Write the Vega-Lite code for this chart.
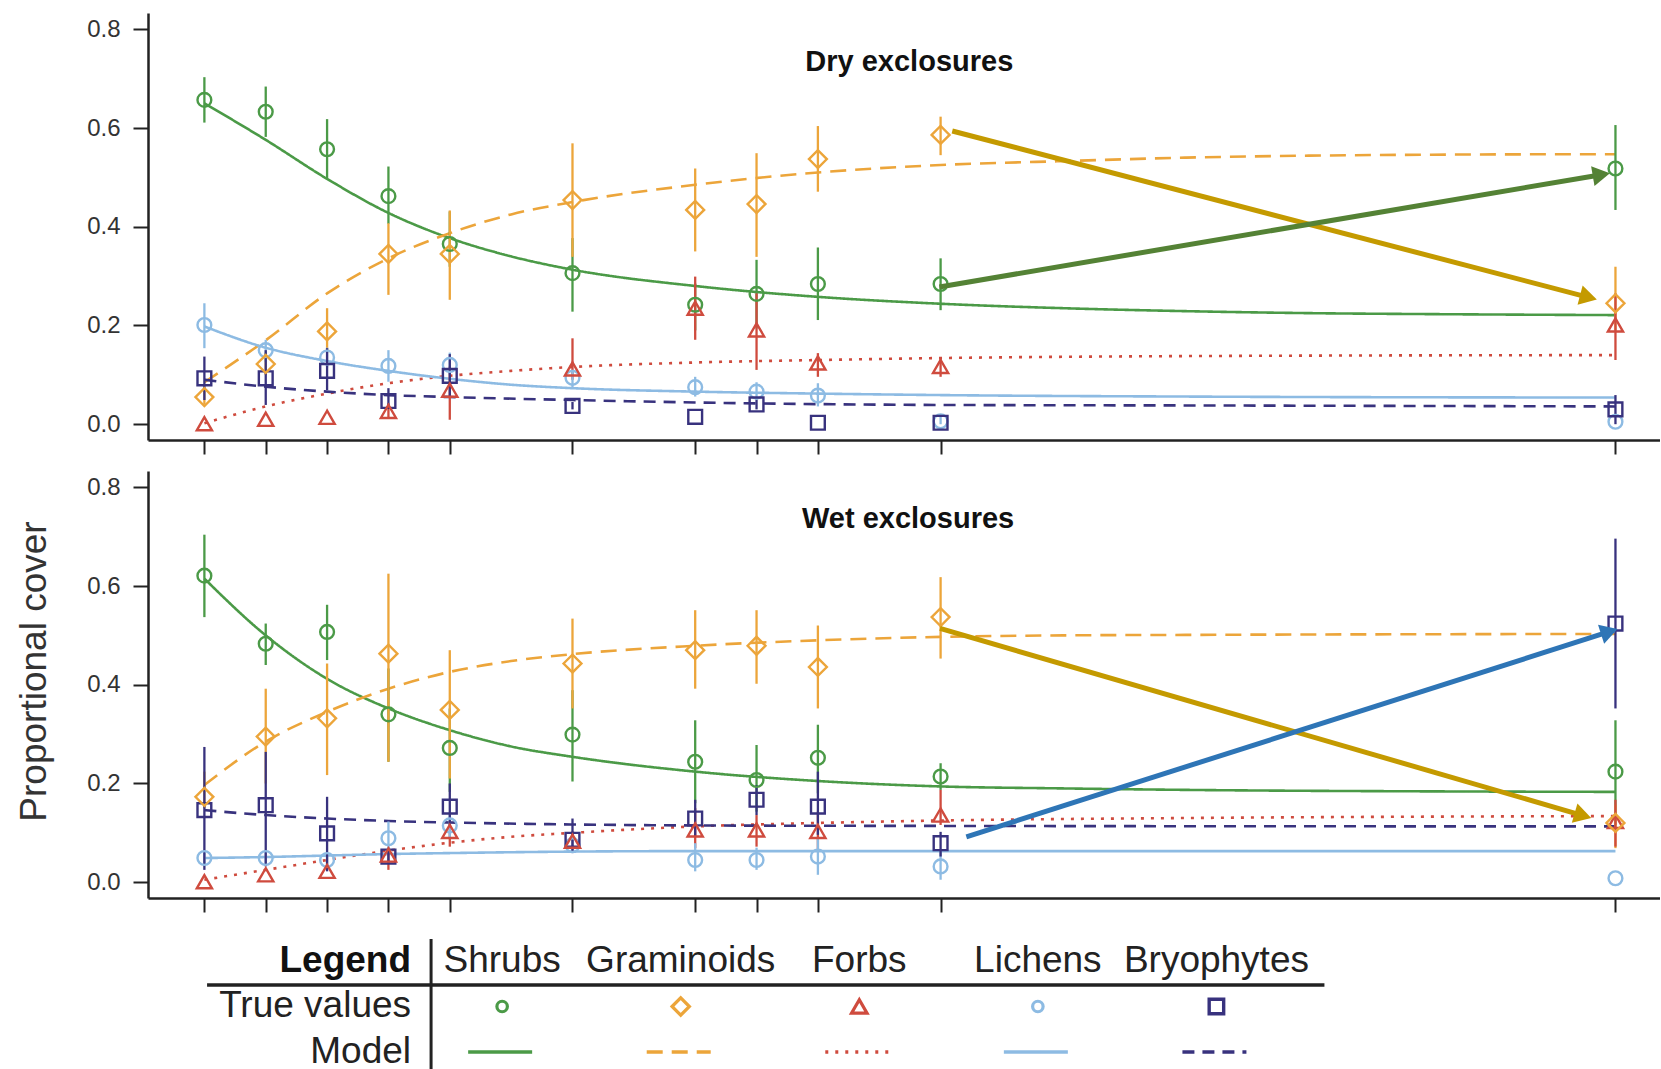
{
  "$schema": "https://vega.github.io/schema/vega-lite/v6.json",
  "background": "white",
  "padding": {"left": 15, "top": 13, "right": 0, "bottom": 0},
  "spacing": 16,
  "config": {
    "view": {"stroke": null},
    "font": "Liberation Sans",
    "axis": {"domainColor": "#222", "domainWidth": 2.5, "tickColor": "#222", "tickWidth": 2, "grid": false, "labelFont": "Liberation Sans", "labelColor": "#333", "labelFontSize": 24},
    "axisX": {"tickSize": 14, "labels": false},
    "axisY": {"tickSize": 15, "labelPadding": 13}
  },
  "datasets": {
    "obs": [
      {"panel":"Dry","group":"Shrubs","year":0,"value":0.657,"lo":0.611,"hi":0.703},
      {"panel":"Dry","group":"Shrubs","year":1,"value":0.633,"lo":0.582,"hi":0.684},
      {"panel":"Dry","group":"Shrubs","year":2,"value":0.557,"lo":0.498,"hi":0.618},
      {"panel":"Dry","group":"Shrubs","year":3,"value":0.462,"lo":0.406,"hi":0.522},
      {"panel":"Dry","group":"Shrubs","year":4,"value":0.365,"lo":0.319,"hi":0.431},
      {"panel":"Dry","group":"Shrubs","year":6,"value":0.306,"lo":0.228,"hi":0.377},
      {"panel":"Dry","group":"Shrubs","year":8,"value":0.242,"lo":0.19,"hi":0.285},
      {"panel":"Dry","group":"Shrubs","year":9,"value":0.264,"lo":0.194,"hi":0.333},
      {"panel":"Dry","group":"Shrubs","year":10,"value":0.284,"lo":0.211,"hi":0.358},
      {"panel":"Dry","group":"Shrubs","year":12,"value":0.284,"lo":0.231,"hi":0.336},
      {"panel":"Dry","group":"Shrubs","year":23,"value":0.518,"lo":0.434,"hi":0.606},
      {"panel":"Dry","group":"Graminoids","year":0,"value":0.055,"lo":0.04,"hi":0.07},
      {"panel":"Dry","group":"Graminoids","year":1,"value":0.122,"lo":0.10,"hi":0.145},
      {"panel":"Dry","group":"Graminoids","year":2,"value":0.188,"lo":0.144,"hi":0.235},
      {"panel":"Dry","group":"Graminoids","year":3,"value":0.345,"lo":0.262,"hi":0.407},
      {"panel":"Dry","group":"Graminoids","year":4,"value":0.345,"lo":0.252,"hi":0.433},
      {"panel":"Dry","group":"Graminoids","year":6,"value":0.454,"lo":0.339,"hi":0.569},
      {"panel":"Dry","group":"Graminoids","year":8,"value":0.434,"lo":0.35,"hi":0.518},
      {"panel":"Dry","group":"Graminoids","year":9,"value":0.446,"lo":0.339,"hi":0.549},
      {"panel":"Dry","group":"Graminoids","year":10,"value":0.537,"lo":0.471,"hi":0.604},
      {"panel":"Dry","group":"Graminoids","year":12,"value":0.586,"lo":0.545,"hi":0.623},
      {"panel":"Dry","group":"Graminoids","year":23,"value":0.245,"lo":0.19,"hi":0.319},
      {"panel":"Dry","group":"Forbs","year":0,"value":0.001,"lo":0.001,"hi":0.001},
      {"panel":"Dry","group":"Forbs","year":1,"value":0.01,"lo":0.01,"hi":0.01},
      {"panel":"Dry","group":"Forbs","year":2,"value":0.014,"lo":0.014,"hi":0.014},
      {"panel":"Dry","group":"Forbs","year":3,"value":0.026,"lo":0.012,"hi":0.042},
      {"panel":"Dry","group":"Forbs","year":4,"value":0.069,"lo":0.009,"hi":0.117},
      {"panel":"Dry","group":"Forbs","year":6,"value":0.112,"lo":0.09,"hi":0.174},
      {"panel":"Dry","group":"Forbs","year":8,"value":0.235,"lo":0.171,"hi":0.299},
      {"panel":"Dry","group":"Forbs","year":9,"value":0.191,"lo":0.11,"hi":0.265},
      {"panel":"Dry","group":"Forbs","year":10,"value":0.124,"lo":0.096,"hi":0.144},
      {"panel":"Dry","group":"Forbs","year":12,"value":0.117,"lo":0.096,"hi":0.134},
      {"panel":"Dry","group":"Forbs","year":23,"value":0.201,"lo":0.13,"hi":0.265},
      {"panel":"Dry","group":"Lichens","year":0,"value":0.201,"lo":0.154,"hi":0.245},
      {"panel":"Dry","group":"Lichens","year":1,"value":0.15,"lo":0.126,"hi":0.171},
      {"panel":"Dry","group":"Lichens","year":2,"value":0.135,"lo":0.115,"hi":0.155},
      {"panel":"Dry","group":"Lichens","year":3,"value":0.118,"lo":0.086,"hi":0.15},
      {"panel":"Dry","group":"Lichens","year":4,"value":0.12,"lo":0.1,"hi":0.145},
      {"panel":"Dry","group":"Lichens","year":6,"value":0.094,"lo":0.075,"hi":0.11},
      {"panel":"Dry","group":"Lichens","year":8,"value":0.075,"lo":0.056,"hi":0.096},
      {"panel":"Dry","group":"Lichens","year":9,"value":0.066,"lo":0.05,"hi":0.085},
      {"panel":"Dry","group":"Lichens","year":10,"value":0.058,"lo":0.036,"hi":0.083},
      {"panel":"Dry","group":"Lichens","year":12,"value":0.006,"lo":0.0,"hi":0.015},
      {"panel":"Dry","group":"Lichens","year":23,"value":0.005,"lo":0.005,"hi":0.005},
      {"panel":"Dry","group":"Bryophytes","year":0,"value":0.093,"lo":0.049,"hi":0.137},
      {"panel":"Dry","group":"Bryophytes","year":1,"value":0.093,"lo":0.039,"hi":0.15},
      {"panel":"Dry","group":"Bryophytes","year":2,"value":0.108,"lo":0.069,"hi":0.154},
      {"panel":"Dry","group":"Bryophytes","year":3,"value":0.047,"lo":0.032,"hi":0.073},
      {"panel":"Dry","group":"Bryophytes","year":4,"value":0.098,"lo":0.056,"hi":0.142},
      {"panel":"Dry","group":"Bryophytes","year":6,"value":0.037,"lo":0.03,"hi":0.045},
      {"panel":"Dry","group":"Bryophytes","year":8,"value":0.015,"lo":0.015,"hi":0.015},
      {"panel":"Dry","group":"Bryophytes","year":9,"value":0.04,"lo":0.03,"hi":0.05},
      {"panel":"Dry","group":"Bryophytes","year":10,"value":0.003,"lo":0.003,"hi":0.003},
      {"panel":"Dry","group":"Bryophytes","year":12,"value":0.003,"lo":0.003,"hi":0.003},
      {"panel":"Dry","group":"Bryophytes","year":23,"value":0.03,"lo":0.0,"hi":0.059},
      {"panel":"Wet","group":"Shrubs","year":0,"value":0.621,"lo":0.537,"hi":0.704},
      {"panel":"Wet","group":"Shrubs","year":1,"value":0.483,"lo":0.44,"hi":0.524},
      {"panel":"Wet","group":"Shrubs","year":2,"value":0.507,"lo":0.45,"hi":0.562},
      {"panel":"Wet","group":"Shrubs","year":3,"value":0.34,"lo":0.244,"hi":0.433},
      {"panel":"Wet","group":"Shrubs","year":4,"value":0.272,"lo":0.183,"hi":0.352},
      {"panel":"Wet","group":"Shrubs","year":6,"value":0.299,"lo":0.204,"hi":0.389},
      {"panel":"Wet","group":"Shrubs","year":8,"value":0.244,"lo":0.16,"hi":0.328},
      {"panel":"Wet","group":"Shrubs","year":9,"value":0.207,"lo":0.143,"hi":0.278},
      {"panel":"Wet","group":"Shrubs","year":10,"value":0.252,"lo":0.18,"hi":0.319},
      {"panel":"Wet","group":"Shrubs","year":12,"value":0.214,"lo":0.187,"hi":0.241},
      {"panel":"Wet","group":"Shrubs","year":23,"value":0.224,"lo":0.116,"hi":0.328},
      {"panel":"Wet","group":"Graminoids","year":0,"value":0.173,"lo":0.15,"hi":0.224},
      {"panel":"Wet","group":"Graminoids","year":1,"value":0.295,"lo":0.2,"hi":0.392},
      {"panel":"Wet","group":"Graminoids","year":2,"value":0.332,"lo":0.217,"hi":0.443},
      {"panel":"Wet","group":"Graminoids","year":3,"value":0.463,"lo":0.244,"hi":0.625},
      {"panel":"Wet","group":"Graminoids","year":4,"value":0.349,"lo":0.21,"hi":0.47},
      {"panel":"Wet","group":"Graminoids","year":6,"value":0.443,"lo":0.352,"hi":0.534},
      {"panel":"Wet","group":"Graminoids","year":8,"value":0.47,"lo":0.392,"hi":0.551},
      {"panel":"Wet","group":"Graminoids","year":9,"value":0.479,"lo":0.402,"hi":0.551},
      {"panel":"Wet","group":"Graminoids","year":10,"value":0.436,"lo":0.352,"hi":0.52},
      {"panel":"Wet","group":"Graminoids","year":12,"value":0.537,"lo":0.453,"hi":0.618},
      {"panel":"Wet","group":"Graminoids","year":23,"value":0.12,"lo":0.069,"hi":0.157},
      {"panel":"Wet","group":"Forbs","year":0,"value":0.001,"lo":0.001,"hi":0.001},
      {"panel":"Wet","group":"Forbs","year":1,"value":0.015,"lo":0.015,"hi":0.015},
      {"panel":"Wet","group":"Forbs","year":2,"value":0.022,"lo":0.022,"hi":0.022},
      {"panel":"Wet","group":"Forbs","year":3,"value":0.055,"lo":0.025,"hi":0.072},
      {"panel":"Wet","group":"Forbs","year":4,"value":0.103,"lo":0.072,"hi":0.123},
      {"panel":"Wet","group":"Forbs","year":6,"value":0.083,"lo":0.065,"hi":0.1},
      {"panel":"Wet","group":"Forbs","year":8,"value":0.106,"lo":0.069,"hi":0.15},
      {"panel":"Wet","group":"Forbs","year":9,"value":0.106,"lo":0.072,"hi":0.136},
      {"panel":"Wet","group":"Forbs","year":10,"value":0.103,"lo":0.066,"hi":0.143},
      {"panel":"Wet","group":"Forbs","year":12,"value":0.136,"lo":0.116,"hi":0.187},
      {"panel":"Wet","group":"Forbs","year":23,"value":0.123,"lo":0.072,"hi":0.167},
      {"panel":"Wet","group":"Lichens","year":0,"value":0.049,"lo":0.035,"hi":0.06},
      {"panel":"Wet","group":"Lichens","year":1,"value":0.049,"lo":0.035,"hi":0.065},
      {"panel":"Wet","group":"Lichens","year":2,"value":0.045,"lo":0.03,"hi":0.06},
      {"panel":"Wet","group":"Lichens","year":3,"value":0.089,"lo":0.062,"hi":0.123},
      {"panel":"Wet","group":"Lichens","year":4,"value":0.115,"lo":0.09,"hi":0.14},
      {"panel":"Wet","group":"Lichens","year":6,"value":0.075,"lo":0.06,"hi":0.09},
      {"panel":"Wet","group":"Lichens","year":8,"value":0.045,"lo":0.022,"hi":0.079},
      {"panel":"Wet","group":"Lichens","year":9,"value":0.045,"lo":0.025,"hi":0.07},
      {"panel":"Wet","group":"Lichens","year":10,"value":0.052,"lo":0.015,"hi":0.089},
      {"panel":"Wet","group":"Lichens","year":12,"value":0.032,"lo":0.005,"hi":0.062},
      {"panel":"Wet","group":"Lichens","year":23,"value":0.008,"lo":0.008,"hi":0.008},
      {"panel":"Wet","group":"Bryophytes","year":0,"value":0.146,"lo":0.025,"hi":0.274},
      {"panel":"Wet","group":"Bryophytes","year":1,"value":0.156,"lo":0.032,"hi":0.264},
      {"panel":"Wet","group":"Bryophytes","year":2,"value":0.099,"lo":0.022,"hi":0.173},
      {"panel":"Wet","group":"Bryophytes","year":3,"value":0.052,"lo":0.04,"hi":0.065},
      {"panel":"Wet","group":"Bryophytes","year":4,"value":0.153,"lo":0.116,"hi":0.2},
      {"panel":"Wet","group":"Bryophytes","year":6,"value":0.086,"lo":0.059,"hi":0.129},
      {"panel":"Wet","group":"Bryophytes","year":8,"value":0.129,"lo":0.092,"hi":0.167},
      {"panel":"Wet","group":"Bryophytes","year":9,"value":0.167,"lo":0.136,"hi":0.197},
      {"panel":"Wet","group":"Bryophytes","year":10,"value":0.153,"lo":0.096,"hi":0.224},
      {"panel":"Wet","group":"Bryophytes","year":12,"value":0.079,"lo":0.052,"hi":0.102},
      {"panel":"Wet","group":"Bryophytes","year":23,"value":0.524,"lo":0.352,"hi":0.696}
    ],
    "model": [
      {"panel":"Dry","group":"Shrubs","year":0,"value":0.65},
      {"panel":"Dry","group":"Shrubs","year":1,"value":0.576},
      {"panel":"Dry","group":"Shrubs","year":2,"value":0.497},
      {"panel":"Dry","group":"Shrubs","year":3,"value":0.428},
      {"panel":"Dry","group":"Shrubs","year":4,"value":0.377},
      {"panel":"Dry","group":"Shrubs","year":5,"value":0.34},
      {"panel":"Dry","group":"Shrubs","year":6,"value":0.313},
      {"panel":"Dry","group":"Shrubs","year":8,"value":0.28},
      {"panel":"Dry","group":"Shrubs","year":10,"value":0.258},
      {"panel":"Dry","group":"Shrubs","year":12,"value":0.244},
      {"panel":"Dry","group":"Shrubs","year":14,"value":0.235},
      {"panel":"Dry","group":"Shrubs","year":16,"value":0.229},
      {"panel":"Dry","group":"Shrubs","year":18,"value":0.225},
      {"panel":"Dry","group":"Shrubs","year":20,"value":0.223},
      {"panel":"Dry","group":"Shrubs","year":23,"value":0.221},
      {"panel":"Dry","group":"Graminoids","year":0,"value":0.085},
      {"panel":"Dry","group":"Graminoids","year":1,"value":0.17},
      {"panel":"Dry","group":"Graminoids","year":2,"value":0.265},
      {"panel":"Dry","group":"Graminoids","year":3,"value":0.336},
      {"panel":"Dry","group":"Graminoids","year":4,"value":0.387},
      {"panel":"Dry","group":"Graminoids","year":5,"value":0.425},
      {"panel":"Dry","group":"Graminoids","year":6,"value":0.45},
      {"panel":"Dry","group":"Graminoids","year":8,"value":0.485},
      {"panel":"Dry","group":"Graminoids","year":10,"value":0.51},
      {"panel":"Dry","group":"Graminoids","year":12,"value":0.525},
      {"panel":"Dry","group":"Graminoids","year":14,"value":0.533},
      {"panel":"Dry","group":"Graminoids","year":16,"value":0.54},
      {"panel":"Dry","group":"Graminoids","year":18,"value":0.544},
      {"panel":"Dry","group":"Graminoids","year":20,"value":0.546},
      {"panel":"Dry","group":"Graminoids","year":23,"value":0.547},
      {"panel":"Dry","group":"Forbs","year":0,"value":0.002},
      {"panel":"Dry","group":"Forbs","year":1,"value":0.036},
      {"panel":"Dry","group":"Forbs","year":2,"value":0.062},
      {"panel":"Dry","group":"Forbs","year":3,"value":0.083},
      {"panel":"Dry","group":"Forbs","year":4,"value":0.098},
      {"panel":"Dry","group":"Forbs","year":5,"value":0.108},
      {"panel":"Dry","group":"Forbs","year":6,"value":0.116},
      {"panel":"Dry","group":"Forbs","year":8,"value":0.125},
      {"panel":"Dry","group":"Forbs","year":10,"value":0.13},
      {"panel":"Dry","group":"Forbs","year":12,"value":0.134},
      {"panel":"Dry","group":"Forbs","year":16,"value":0.138},
      {"panel":"Dry","group":"Forbs","year":23,"value":0.14},
      {"panel":"Dry","group":"Lichens","year":0,"value":0.198},
      {"panel":"Dry","group":"Lichens","year":1,"value":0.155},
      {"panel":"Dry","group":"Lichens","year":2,"value":0.128},
      {"panel":"Dry","group":"Lichens","year":3,"value":0.108},
      {"panel":"Dry","group":"Lichens","year":4,"value":0.092},
      {"panel":"Dry","group":"Lichens","year":5,"value":0.08},
      {"panel":"Dry","group":"Lichens","year":6,"value":0.073},
      {"panel":"Dry","group":"Lichens","year":8,"value":0.066},
      {"panel":"Dry","group":"Lichens","year":10,"value":0.062},
      {"panel":"Dry","group":"Lichens","year":12,"value":0.059},
      {"panel":"Dry","group":"Lichens","year":16,"value":0.056},
      {"panel":"Dry","group":"Lichens","year":23,"value":0.054},
      {"panel":"Dry","group":"Bryophytes","year":0,"value":0.09},
      {"panel":"Dry","group":"Bryophytes","year":1,"value":0.076},
      {"panel":"Dry","group":"Bryophytes","year":2,"value":0.066},
      {"panel":"Dry","group":"Bryophytes","year":3,"value":0.059},
      {"panel":"Dry","group":"Bryophytes","year":4,"value":0.055},
      {"panel":"Dry","group":"Bryophytes","year":6,"value":0.049},
      {"panel":"Dry","group":"Bryophytes","year":8,"value":0.044},
      {"panel":"Dry","group":"Bryophytes","year":12,"value":0.039},
      {"panel":"Dry","group":"Bryophytes","year":16,"value":0.038},
      {"panel":"Dry","group":"Bryophytes","year":23,"value":0.036},
      {"panel":"Wet","group":"Shrubs","year":0,"value":0.615},
      {"panel":"Wet","group":"Shrubs","year":1,"value":0.5},
      {"panel":"Wet","group":"Shrubs","year":2,"value":0.412},
      {"panel":"Wet","group":"Shrubs","year":3,"value":0.352},
      {"panel":"Wet","group":"Shrubs","year":4,"value":0.308},
      {"panel":"Wet","group":"Shrubs","year":5,"value":0.275},
      {"panel":"Wet","group":"Shrubs","year":6,"value":0.254},
      {"panel":"Wet","group":"Shrubs","year":8,"value":0.224},
      {"panel":"Wet","group":"Shrubs","year":10,"value":0.205},
      {"panel":"Wet","group":"Shrubs","year":12,"value":0.194},
      {"panel":"Wet","group":"Shrubs","year":14,"value":0.19},
      {"panel":"Wet","group":"Shrubs","year":16,"value":0.187},
      {"panel":"Wet","group":"Shrubs","year":20,"value":0.184},
      {"panel":"Wet","group":"Shrubs","year":23,"value":0.183},
      {"panel":"Wet","group":"Graminoids","year":0,"value":0.197},
      {"panel":"Wet","group":"Graminoids","year":1,"value":0.285},
      {"panel":"Wet","group":"Graminoids","year":2,"value":0.345},
      {"panel":"Wet","group":"Graminoids","year":3,"value":0.392},
      {"panel":"Wet","group":"Graminoids","year":4,"value":0.426},
      {"panel":"Wet","group":"Graminoids","year":5,"value":0.448},
      {"panel":"Wet","group":"Graminoids","year":6,"value":0.462},
      {"panel":"Wet","group":"Graminoids","year":8,"value":0.479},
      {"panel":"Wet","group":"Graminoids","year":10,"value":0.49},
      {"panel":"Wet","group":"Graminoids","year":12,"value":0.497},
      {"panel":"Wet","group":"Graminoids","year":14,"value":0.5},
      {"panel":"Wet","group":"Graminoids","year":16,"value":0.501},
      {"panel":"Wet","group":"Graminoids","year":23,"value":0.503},
      {"panel":"Wet","group":"Forbs","year":0,"value":0.005},
      {"panel":"Wet","group":"Forbs","year":1,"value":0.025},
      {"panel":"Wet","group":"Forbs","year":2,"value":0.045},
      {"panel":"Wet","group":"Forbs","year":3,"value":0.064},
      {"panel":"Wet","group":"Forbs","year":4,"value":0.08},
      {"panel":"Wet","group":"Forbs","year":5,"value":0.092},
      {"panel":"Wet","group":"Forbs","year":6,"value":0.1},
      {"panel":"Wet","group":"Forbs","year":8,"value":0.113},
      {"panel":"Wet","group":"Forbs","year":10,"value":0.12},
      {"panel":"Wet","group":"Forbs","year":12,"value":0.125},
      {"panel":"Wet","group":"Forbs","year":16,"value":0.13},
      {"panel":"Wet","group":"Forbs","year":23,"value":0.134},
      {"panel":"Wet","group":"Lichens","year":0,"value":0.049},
      {"panel":"Wet","group":"Lichens","year":1,"value":0.051},
      {"panel":"Wet","group":"Lichens","year":2,"value":0.054},
      {"panel":"Wet","group":"Lichens","year":3,"value":0.057},
      {"panel":"Wet","group":"Lichens","year":4,"value":0.059},
      {"panel":"Wet","group":"Lichens","year":6,"value":0.062},
      {"panel":"Wet","group":"Lichens","year":8,"value":0.063},
      {"panel":"Wet","group":"Lichens","year":12,"value":0.063},
      {"panel":"Wet","group":"Lichens","year":23,"value":0.063},
      {"panel":"Wet","group":"Bryophytes","year":0,"value":0.146},
      {"panel":"Wet","group":"Bryophytes","year":1,"value":0.136},
      {"panel":"Wet","group":"Bryophytes","year":2,"value":0.129},
      {"panel":"Wet","group":"Bryophytes","year":3,"value":0.124},
      {"panel":"Wet","group":"Bryophytes","year":4,"value":0.121},
      {"panel":"Wet","group":"Bryophytes","year":6,"value":0.117},
      {"panel":"Wet","group":"Bryophytes","year":8,"value":0.115},
      {"panel":"Wet","group":"Bryophytes","year":12,"value":0.114},
      {"panel":"Wet","group":"Bryophytes","year":23,"value":0.113}
    ],
    "panels": [
      {"panel":"Dry","title":"Dry exclosures"},
      {"panel":"Wet","title":"Wet exclosures"}
    ],
    "groups": [
      {"group":"Shrubs"},{"group":"Graminoids"},{"group":"Forbs"},{"group":"Lichens"},{"group":"Bryophytes"}
    ],
    "rowlabels": [
      {"row":"True values","label":"True values"},
      {"row":"Model","label":"Model"}
    ]
  },
  "vconcat": [
    {
      "width": 1512, "height": 427,
      "layer": [
        {
          "data": {"name": "model"},
          "transform": [{"filter": "datum.panel === 'Dry'"}],
          "mark": {"type": "line", "strokeWidth": 2.6, "interpolate": "monotone"},
          "encoding": {
            "x": {"field": "year", "type": "quantitative", "title": null, "scale": {"domain": [-0.919, 23.726], "nice": false, "zero": false}, "axis": {"values": [0,1,2,3,4,6,8,9,10,12,23], "labels": false}},
            "y": {"field": "value", "type": "quantitative", "title": null, "scale": {"domain": [-0.032, 0.833], "nice": false, "zero": false}, "axis": {"values": [0,0.2,0.4,0.6,0.8], "format": ".1f"}},
            "detail": {"field": "group"},
            "color": {"field": "group", "type": "nominal", "legend": null, "scale": {"domain": ["Shrubs","Graminoids","Forbs","Lichens","Bryophytes"], "range": ["#4b9a47","#eca53a","#cf4b3e","#8dbbe3","#38327e"]}},
            "strokeDash": {"field": "group", "type": "nominal", "legend": null, "scale": {"domain": ["Shrubs","Graminoids","Forbs","Lichens","Bryophytes"], "range": [[1,0],[16,9],[3,7],[1,0],[12,8]]}}
          }
        },
        {
          "data": {"name": "obs"},
          "transform": [{"filter": "datum.panel === 'Dry'"}],
          "mark": {"type": "rule", "strokeWidth": 2.3},
          "encoding": {
            "x": {"field": "year", "type": "quantitative", "title": null},
            "y": {"field": "lo", "type": "quantitative", "title": null},
            "y2": {"field": "hi"},
            "color": {"field": "group", "type": "nominal", "legend": null, "scale": {"domain": ["Shrubs","Graminoids","Forbs","Lichens","Bryophytes"], "range": ["#4b9a47","#eca53a","#cf4b3e","#8dbbe3","#38327e"]}}
          }
        },
        {
          "data": {"name": "obs"},
          "transform": [{"filter": "datum.panel === 'Dry' && datum.group !== 'Graminoids' && datum.group !== 'Forbs'"}],
          "mark": {"type": "point", "filled": false, "strokeWidth": 2.4, "opacity": 1, "size": 190},
          "encoding": {
            "x": {"field": "year", "type": "quantitative", "title": null},
            "y": {"field": "value", "type": "quantitative", "title": null},
            "color": {"field": "group", "type": "nominal", "legend": null, "scale": {"domain": ["Shrubs","Graminoids","Forbs","Lichens","Bryophytes"], "range": ["#4b9a47","#eca53a","#cf4b3e","#8dbbe3","#38327e"]}},
            "shape": {"field": "group", "type": "nominal", "legend": null, "scale": {"domain": ["Shrubs","Graminoids","Forbs","Lichens","Bryophytes"], "range": ["circle","diamond","triangle-up","circle","square"]}}
          }
        },
        {
          "data": {"name": "obs"},
          "transform": [{"filter": "datum.panel === 'Dry' && datum.group === 'Forbs'"}],
          "mark": {"type": "point", "filled": false, "strokeWidth": 2.4, "opacity": 1, "size": 230, "shape": "triangle-up"},
          "encoding": {
            "x": {"field": "year", "type": "quantitative", "title": null},
            "y": {"field": "value", "type": "quantitative", "title": null},
            "color": {"field": "group", "type": "nominal", "legend": null, "scale": {"domain": ["Shrubs","Graminoids","Forbs","Lichens","Bryophytes"], "range": ["#4b9a47","#eca53a","#cf4b3e","#8dbbe3","#38327e"]}}
          }
        },
        {
          "data": {"name": "obs"},
          "transform": [{"filter": "datum.panel === 'Dry' && datum.group === 'Graminoids'"}],
          "mark": {"type": "point", "filled": false, "strokeWidth": 2.4, "opacity": 1, "size": 320, "shape": "diamond"},
          "encoding": {
            "x": {"field": "year", "type": "quantitative", "title": null},
            "y": {"field": "value", "type": "quantitative", "title": null},
            "color": {"field": "group", "type": "nominal", "legend": null, "scale": {"domain": ["Shrubs","Graminoids","Forbs","Lichens","Bryophytes"], "range": ["#4b9a47","#eca53a","#cf4b3e","#8dbbe3","#38327e"]}}
          }
        },
        {
          "data": {"name": "panels"},
          "transform": [{"filter": "datum.panel === 'Dry'"}],
          "mark": {"type": "text", "fontSize": 29, "fontWeight": "bold", "color": "#111", "baseline": "middle"},
          "encoding": {
            "x": {"datum": 11.49, "type": "quantitative"},
            "y": {"datum": 0.733, "type": "quantitative"},
            "text": {"field": "title"}
          }
        },
        {
          "data": {"name": "panels"},
          "transform": [{"filter": "datum.panel === 'Dry'"}],
          "mark": {"type": "rule", "strokeWidth": 5, "color": "#c49a00"},
          "encoding": {
            "x": {"datum": 12.19, "type": "quantitative"}, "y": {"datum": 0.594, "type": "quantitative"},
            "x2": {"datum": 22.56}, "y2": {"datum": 0.257}
          }
        },
        {
          "data": {"name": "panels"},
          "transform": [{"filter": "datum.panel === 'Dry'"}],
          "mark": {"type": "point", "shape": "triangle-right", "filled": true, "size": 400, "angle": 14.7, "color": "#c49a00", "opacity": 1, "strokeWidth": 0},
          "encoding": {"x": {"datum": 22.56, "type": "quantitative"}, "y": {"datum": 0.257, "type": "quantitative"}}
        },
        {
          "data": {"name": "panels"},
          "transform": [{"filter": "datum.panel === 'Dry'"}],
          "mark": {"type": "rule", "strokeWidth": 5, "color": "#548235"},
          "encoding": {
            "x": {"datum": 11.98, "type": "quantitative"}, "y": {"datum": 0.278, "type": "quantitative"},
            "x2": {"datum": 22.77}, "y2": {"datum": 0.5055}
          }
        },
        {
          "data": {"name": "panels"},
          "transform": [{"filter": "datum.panel === 'Dry'"}],
          "mark": {"type": "point", "shape": "triangle-right", "filled": true, "size": 400, "angle": 350.3, "color": "#548235", "opacity": 1, "strokeWidth": 0},
          "encoding": {"x": {"datum": 22.77, "type": "quantitative"}, "y": {"datum": 0.5055, "type": "quantitative"}}
        }
      ]
    },
    {
      "width": 1512, "height": 427,
      "layer": [
        {
          "data": {"name": "model"},
          "transform": [{"filter": "datum.panel === 'Wet'"}],
          "mark": {"type": "line", "strokeWidth": 2.6, "interpolate": "monotone"},
          "encoding": {
            "x": {"field": "year", "type": "quantitative", "title": null, "scale": {"domain": [-0.919, 23.726], "nice": false, "zero": false}, "axis": {"values": [0,1,2,3,4,6,8,9,10,12,23], "labels": false}},
            "y": {"field": "value", "type": "quantitative", "title": "Proportional cover", "scale": {"domain": [-0.032, 0.833], "nice": false, "zero": false}, "axis": {"values": [0,0.2,0.4,0.6,0.8], "format": ".1f", "titleFontSize": 37, "titleFontWeight": "normal", "titleColor": "#333", "titlePadding": 33, "titleY": 200}},
            "detail": {"field": "group"},
            "color": {"field": "group", "type": "nominal", "legend": null, "scale": {"domain": ["Shrubs","Graminoids","Forbs","Lichens","Bryophytes"], "range": ["#4b9a47","#eca53a","#cf4b3e","#8dbbe3","#38327e"]}},
            "strokeDash": {"field": "group", "type": "nominal", "legend": null, "scale": {"domain": ["Shrubs","Graminoids","Forbs","Lichens","Bryophytes"], "range": [[1,0],[16,9],[3,7],[1,0],[12,8]]}}
          }
        },
        {
          "data": {"name": "obs"},
          "transform": [{"filter": "datum.panel === 'Wet'"}],
          "mark": {"type": "rule", "strokeWidth": 2.3},
          "encoding": {
            "x": {"field": "year", "type": "quantitative", "title": null},
            "y": {"field": "lo", "type": "quantitative", "title": "Proportional cover"},
            "y2": {"field": "hi"},
            "color": {"field": "group", "type": "nominal", "legend": null, "scale": {"domain": ["Shrubs","Graminoids","Forbs","Lichens","Bryophytes"], "range": ["#4b9a47","#eca53a","#cf4b3e","#8dbbe3","#38327e"]}}
          }
        },
        {
          "data": {"name": "obs"},
          "transform": [{"filter": "datum.panel === 'Wet' && datum.group !== 'Graminoids' && datum.group !== 'Forbs'"}],
          "mark": {"type": "point", "filled": false, "strokeWidth": 2.4, "opacity": 1, "size": 190},
          "encoding": {
            "x": {"field": "year", "type": "quantitative", "title": null},
            "y": {"field": "value", "type": "quantitative", "title": "Proportional cover"},
            "color": {"field": "group", "type": "nominal", "legend": null, "scale": {"domain": ["Shrubs","Graminoids","Forbs","Lichens","Bryophytes"], "range": ["#4b9a47","#eca53a","#cf4b3e","#8dbbe3","#38327e"]}},
            "shape": {"field": "group", "type": "nominal", "legend": null, "scale": {"domain": ["Shrubs","Graminoids","Forbs","Lichens","Bryophytes"], "range": ["circle","diamond","triangle-up","circle","square"]}}
          }
        },
        {
          "data": {"name": "obs"},
          "transform": [{"filter": "datum.panel === 'Wet' && datum.group === 'Forbs'"}],
          "mark": {"type": "point", "filled": false, "strokeWidth": 2.4, "opacity": 1, "size": 230, "shape": "triangle-up"},
          "encoding": {
            "x": {"field": "year", "type": "quantitative", "title": null},
            "y": {"field": "value", "type": "quantitative", "title": "Proportional cover"},
            "color": {"field": "group", "type": "nominal", "legend": null, "scale": {"domain": ["Shrubs","Graminoids","Forbs","Lichens","Bryophytes"], "range": ["#4b9a47","#eca53a","#cf4b3e","#8dbbe3","#38327e"]}}
          }
        },
        {
          "data": {"name": "obs"},
          "transform": [{"filter": "datum.panel === 'Wet' && datum.group === 'Graminoids'"}],
          "mark": {"type": "point", "filled": false, "strokeWidth": 2.4, "opacity": 1, "size": 320, "shape": "diamond"},
          "encoding": {
            "x": {"field": "year", "type": "quantitative", "title": null},
            "y": {"field": "value", "type": "quantitative", "title": "Proportional cover"},
            "color": {"field": "group", "type": "nominal", "legend": null, "scale": {"domain": ["Shrubs","Graminoids","Forbs","Lichens","Bryophytes"], "range": ["#4b9a47","#eca53a","#cf4b3e","#8dbbe3","#38327e"]}}
          }
        },
        {
          "data": {"name": "panels"},
          "transform": [{"filter": "datum.panel === 'Wet'"}],
          "mark": {"type": "text", "fontSize": 29, "fontWeight": "bold", "color": "#111", "baseline": "middle"},
          "encoding": {
            "x": {"datum": 11.47, "type": "quantitative"},
            "y": {"datum": 0.735, "type": "quantitative", "title": "Proportional cover"},
            "text": {"field": "title"}
          }
        },
        {
          "data": {"name": "panels"},
          "transform": [{"filter": "datum.panel === 'Wet'"}],
          "mark": {"type": "rule", "strokeWidth": 5, "color": "#c49a00"},
          "encoding": {
            "x": {"datum": 11.99, "type": "quantitative"}, "y": {"datum": 0.514, "type": "quantitative", "title": "Proportional cover"},
            "x2": {"datum": 22.47}, "y2": {"datum": 0.135}
          }
        },
        {
          "data": {"name": "panels"},
          "transform": [{"filter": "datum.panel === 'Wet'"}],
          "mark": {"type": "point", "shape": "triangle-right", "filled": true, "size": 400, "angle": 16.3, "color": "#c49a00", "opacity": 1, "strokeWidth": 0},
          "encoding": {"x": {"datum": 22.47, "type": "quantitative"}, "y": {"datum": 0.135, "type": "quantitative", "title": "Proportional cover"}}
        },
        {
          "data": {"name": "panels"},
          "transform": [{"filter": "datum.panel === 'Wet'"}],
          "mark": {"type": "rule", "strokeWidth": 5, "color": "#2e75b6"},
          "encoding": {
            "x": {"datum": 12.42, "type": "quantitative"}, "y": {"datum": 0.092, "type": "quantitative", "title": "Proportional cover"},
            "x2": {"datum": 22.9}, "y2": {"datum": 0.5075}
          }
        },
        {
          "data": {"name": "panels"},
          "transform": [{"filter": "datum.panel === 'Wet'"}],
          "mark": {"type": "point", "shape": "triangle-right", "filled": true, "size": 400, "angle": 342.2, "color": "#2e75b6", "opacity": 1, "strokeWidth": 0},
          "encoding": {"x": {"datum": 22.9, "type": "quantitative"}, "y": {"datum": 0.5075, "type": "quantitative", "title": "Proportional cover"}}
        }
      ]
    },
    {
      "width": 1250, "height": 140,
      "layer": [
        {
          "data": {"name": "groups"},
          "mark": {"type": "text", "fontSize": 37, "color": "#222", "baseline": "middle"},
          "encoding": {
            "x": {"field": "group", "type": "nominal", "axis": null, "scale": {"type": "point", "domain": ["label","Shrubs","Graminoids","Forbs","Lichens","Bryophytes"], "padding": 1, "align": 0.4916}},
            "y": {"datum": "header", "type": "nominal", "axis": null, "scale": {"type": "point", "domain": ["header","True values","Model"], "padding": 0.5385, "align": 0.653}},
            "text": {"field": "group"}
          }
        },
        {
          "data": {"values": [{"label": "Legend"}]},
          "mark": {"type": "text", "fontSize": 37, "fontWeight": "bold", "color": "#111", "align": "right", "baseline": "middle", "dx": 87.5},
          "encoding": {
            "x": {"datum": "label", "type": "nominal"},
            "y": {"datum": "header", "type": "nominal"},
            "text": {"field": "label"}
          }
        },
        {
          "data": {"name": "rowlabels"},
          "mark": {"type": "text", "fontSize": 37, "color": "#222", "align": "right", "baseline": "middle", "dx": 87.5},
          "encoding": {
            "x": {"datum": "label", "type": "nominal"},
            "y": {"field": "row", "type": "nominal"},
            "text": {"field": "label"}
          }
        },
        {
          "data": {"name": "groups"},
          "transform": [{"filter": "datum.group === 'Shrubs' || datum.group === 'Lichens'"}],
          "mark": {"type": "point", "filled": false, "strokeWidth": 3.2, "opacity": 1, "size": 110, "shape": "circle"},
          "encoding": {
            "x": {"field": "group", "type": "nominal"},
            "y": {"datum": "True values", "type": "nominal"},
            "color": {"field": "group", "type": "nominal", "legend": null, "scale": {"domain": ["Shrubs","Graminoids","Forbs","Lichens","Bryophytes"], "range": ["#4b9a47","#eca53a","#cf4b3e","#8dbbe3","#38327e"]}}
          }
        },
        {
          "data": {"name": "groups"},
          "transform": [{"filter": "datum.group === 'Graminoids'"}],
          "mark": {"type": "point", "filled": false, "strokeWidth": 3.2, "opacity": 1, "size": 300, "shape": "diamond"},
          "encoding": {
            "x": {"field": "group", "type": "nominal"},
            "y": {"datum": "True values", "type": "nominal"},
            "color": {"field": "group", "type": "nominal", "legend": null, "scale": {"domain": ["Shrubs","Graminoids","Forbs","Lichens","Bryophytes"], "range": ["#4b9a47","#eca53a","#cf4b3e","#8dbbe3","#38327e"]}}
          }
        },
        {
          "data": {"name": "groups"},
          "transform": [{"filter": "datum.group === 'Forbs'"}],
          "mark": {"type": "point", "filled": false, "strokeWidth": 3.2, "opacity": 1, "size": 240, "shape": "triangle-up"},
          "encoding": {
            "x": {"field": "group", "type": "nominal"},
            "y": {"datum": "True values", "type": "nominal"},
            "color": {"field": "group", "type": "nominal", "legend": null, "scale": {"domain": ["Shrubs","Graminoids","Forbs","Lichens","Bryophytes"], "range": ["#4b9a47","#eca53a","#cf4b3e","#8dbbe3","#38327e"]}}
          }
        },
        {
          "data": {"name": "groups"},
          "transform": [{"filter": "datum.group === 'Bryophytes'"}],
          "mark": {"type": "point", "filled": false, "strokeWidth": 3.4, "opacity": 1, "size": 210, "shape": "square"},
          "encoding": {
            "x": {"field": "group", "type": "nominal"},
            "y": {"datum": "True values", "type": "nominal"},
            "color": {"field": "group", "type": "nominal", "legend": null, "scale": {"domain": ["Shrubs","Graminoids","Forbs","Lichens","Bryophytes"], "range": ["#4b9a47","#eca53a","#cf4b3e","#8dbbe3","#38327e"]}}
          }
        },
        {
          "data": {"name": "groups"},
          "mark": {"type": "rule", "strokeWidth": 3.5, "xOffset": -34, "x2Offset": 30},
          "encoding": {
            "x": {"field": "group", "type": "nominal"},
            "x2": {"field": "group"},
            "y": {"datum": "Model", "type": "nominal"},
            "color": {"field": "group", "type": "nominal", "legend": null, "scale": {"domain": ["Shrubs","Graminoids","Forbs","Lichens","Bryophytes"], "range": ["#4b9a47","#eca53a","#cf4b3e","#8dbbe3","#38327e"]}},
            "strokeDash": {"field": "group", "type": "nominal", "legend": null, "scale": {"domain": ["Shrubs","Graminoids","Forbs","Lichens","Bryophytes"], "range": [[1,0],[16,9],[3,7],[1,0],[12,8]]}}
          }
        },
        {
          "data": {"values": [{}]},
          "mark": {"type": "rule", "strokeWidth": 3.5, "color": "#222", "xOffset": -116.5, "x2Offset": 108, "yOffset": 24},
          "encoding": {
            "x": {"datum": "label", "type": "nominal"},
            "x2": {"datum": "Bryophytes"},
            "y": {"datum": "header", "type": "nominal"}
          }
        },
        {
          "data": {"values": [{}]},
          "mark": {"type": "rule", "strokeWidth": 3, "color": "#222", "xOffset": 107.5, "yOffset": -22, "y2Offset": 17},
          "encoding": {
            "x": {"datum": "label", "type": "nominal"},
            "y": {"datum": "header", "type": "nominal"},
            "y2": {"datum": "Model"}
          }
        }
      ]
    }
  ]
}
